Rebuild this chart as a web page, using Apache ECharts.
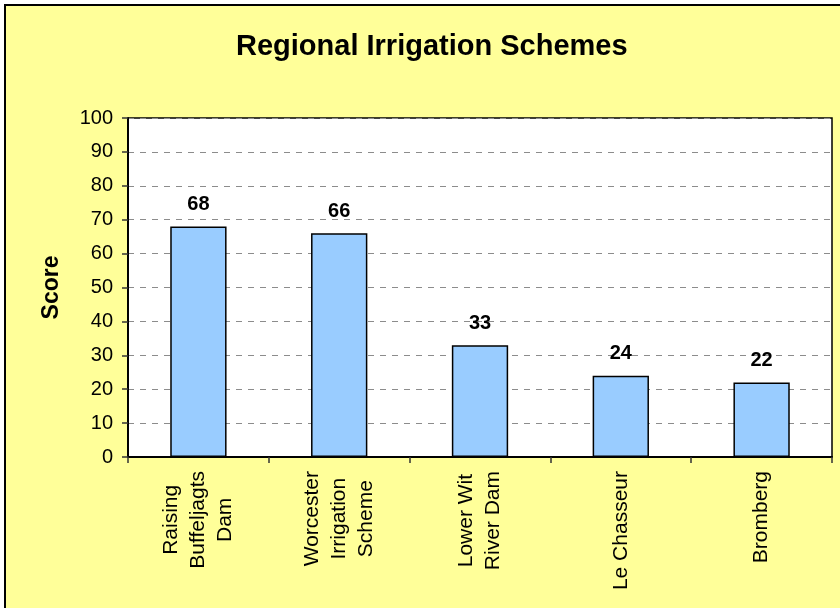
<!DOCTYPE html>
<html>
<head>
<meta charset="utf-8">
<script src="https://cdn.jsdelivr.net/npm/echarts@6/dist/echarts.min.js"></script>
<style>
  html, body { margin: 0; padding: 0; background: #ffffff; overflow: hidden; }
  #frame {
    position: absolute; left: 4px; top: 4px; width: 900px; height: 700px;
    border: 2px solid #000000; background: #FFFF99;
  }
  #chart { position: absolute; left: 0; top: 0; width: 840px; height: 608px; }
</style>
</head>
<body>
<div id="frame"></div>
<div id="chart"></div>
<script>
// Scheme names (one string per line of the wrapped axis label)
const categories = [
  ['Raising', 'Buffeljagts', 'Dam'],
  ['Worcester', 'Irrigation', 'Scheme'],
  ['Lower Wit', 'River Dam'],
  ['Le Chasseur'],
  ['Bromberg']
];
// Score per scheme
const scores = [68, 66, 33, 24, 22];
// Value axis range
const yMin = 0;
const yMax = 100;
const yStep = 10;

const FONT = '"Liberation Sans", Arial, sans-serif';

const chart = echarts.init(document.getElementById('chart'), null, { renderer: 'canvas' });

chart.setOption({
  backgroundColor: 'transparent',
  animation: false,
  title: {
    text: 'Regional Irrigation Schemes',
    left: 236,
    top: 32,
    padding: 0,
    textStyle: { fontFamily: FONT, fontSize: 29, fontWeight: 'bold', color: '#000000' }
  },
  grid: {
    left: 128, top: 118, right: 8, bottom: 151,
    show: true,
    backgroundColor: '#ffffff',
    borderColor: '#000000',
    borderWidth: 1.5
  },
  xAxis: {
    type: 'category',
    data: categories.map(c => c.join('\n')),
    boundaryGap: true,
    axisLine: { show: true, lineStyle: { color: '#000000', width: 2 } },
    axisTick: { show: true, length: 6, alignWithLabel: false, lineStyle: { color: '#333333', width: 1.5 } },
    axisLabel: {
      interval: 0,
      rotate: 90,
      margin: 14,
      color: '#000000',
      fontFamily: FONT,
      fontSize: 21,
      lineHeight: 27,
      formatter: function (v) {
        return v.split('\n').map(s => '{c|' + s + '}').join('\n');
      },
      rich: {
        c: { align: 'center', fontFamily: FONT, fontSize: 21, lineHeight: 27, color: '#000000' }
      }
    },
    splitLine: { show: false }
  },
  yAxis: {
    type: 'value',
    min: yMin,
    max: yMax,
    interval: yStep,
    name: 'Score',
    nameLocation: 'middle',
    nameGap: 65,
    nameTextStyle: { fontFamily: FONT, fontSize: 23, fontWeight: 'bold', color: '#000000' },
    axisLine: { show: true, lineStyle: { color: '#000000', width: 2 } },
    axisTick: { show: true, length: 6, lineStyle: { color: '#333333', width: 1.5 } },
    axisLabel: { margin: 15, color: '#000000', fontFamily: FONT, fontSize: 20 },
    splitLine: { show: true, lineStyle: { color: '#8c8c8c', type: [6, 6], width: 1 } }
  },
  series: [{
    type: 'bar',
    data: scores,
    barCategoryGap: '60%',
    itemStyle: { color: '#99CCFF', borderColor: '#000000', borderWidth: 1.5 },
    label: {
      show: true,
      position: 'top',
      distance: 12,
      color: '#000000',
      fontFamily: FONT,
      fontSize: 20,
      fontWeight: 'bold'
    }
  }]
});
</script>
</body>
</html>
